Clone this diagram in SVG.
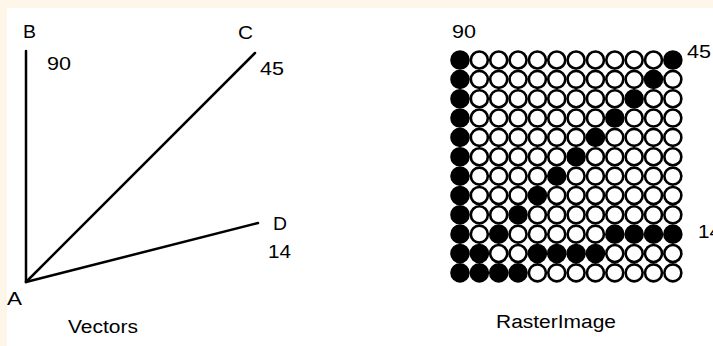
<svg xmlns="http://www.w3.org/2000/svg" width="713" height="346" viewBox="0 0 713 346">
<style>
text{font-family:"Liberation Sans",Arial,sans-serif;font-size:19.2px;fill:#000}
.v{stroke:#000;stroke-width:2.5;fill:none;stroke-linecap:round}
.o{fill:#fff;stroke:#000;stroke-width:2.6}
.f{fill:#000;stroke:#000;stroke-width:2.6}
</style>
<defs>
<circle id="o" r="8.5" class="o"/>
<circle id="f" r="8.5" class="f"/>
</defs>
<rect width="713" height="346" fill="#fef6e9"/>
<rect x="7" y="8" width="706" height="338" fill="#fff"/>
<g id="connectors">
<line class="v" x1="26" y1="51" x2="26" y2="282"/>
<line class="v" x1="26" y1="282" x2="255" y2="53"/>
<line class="v" x1="26" y1="282" x2="258" y2="223"/>
</g>
<g id="vectors-labels">
<text x="23" y="38" textLength="13" lengthAdjust="spacingAndGlyphs">B</text>
<text x="47" y="70" textLength="24" lengthAdjust="spacingAndGlyphs">90</text>
<text x="238" y="39" textLength="15" lengthAdjust="spacingAndGlyphs">C</text>
<text x="260" y="75" textLength="24" lengthAdjust="spacingAndGlyphs">45</text>
<text x="273" y="230" textLength="14" lengthAdjust="spacingAndGlyphs">D</text>
<text x="268" y="258" textLength="23" lengthAdjust="spacingAndGlyphs">14</text>
<text x="7" y="305" textLength="15" lengthAdjust="spacingAndGlyphs">A</text>
<text x="68" y="333" textLength="70" lengthAdjust="spacingAndGlyphs">Vectors</text>
</g>
<g id="raster-grid">
<g transform="translate(460,60)">
<use href="#f" x="0" y="0"/><use href="#o" x="19.35" y="0"/><use href="#o" x="38.7" y="0"/><use href="#o" x="58.05" y="0"/><use href="#o" x="77.4" y="0"/><use href="#o" x="96.75" y="0"/><use href="#o" x="116.1" y="0"/><use href="#o" x="135.45" y="0"/><use href="#o" x="154.8" y="0"/><use href="#o" x="174.15" y="0"/><use href="#o" x="193.5" y="0"/><use href="#f" x="212.85" y="0"/>
<use href="#f" x="0" y="19.35"/><use href="#o" x="19.35" y="19.35"/><use href="#o" x="38.7" y="19.35"/><use href="#o" x="58.05" y="19.35"/><use href="#o" x="77.4" y="19.35"/><use href="#o" x="96.75" y="19.35"/><use href="#o" x="116.1" y="19.35"/><use href="#o" x="135.45" y="19.35"/><use href="#o" x="154.8" y="19.35"/><use href="#o" x="174.15" y="19.35"/><use href="#f" x="193.5" y="19.35"/><use href="#o" x="212.85" y="19.35"/>
<use href="#f" x="0" y="38.7"/><use href="#o" x="19.35" y="38.7"/><use href="#o" x="38.7" y="38.7"/><use href="#o" x="58.05" y="38.7"/><use href="#o" x="77.4" y="38.7"/><use href="#o" x="96.75" y="38.7"/><use href="#o" x="116.1" y="38.7"/><use href="#o" x="135.45" y="38.7"/><use href="#o" x="154.8" y="38.7"/><use href="#f" x="174.15" y="38.7"/><use href="#o" x="193.5" y="38.7"/><use href="#o" x="212.85" y="38.7"/>
<use href="#f" x="0" y="58.05"/><use href="#o" x="19.35" y="58.05"/><use href="#o" x="38.7" y="58.05"/><use href="#o" x="58.05" y="58.05"/><use href="#o" x="77.4" y="58.05"/><use href="#o" x="96.75" y="58.05"/><use href="#o" x="116.1" y="58.05"/><use href="#o" x="135.45" y="58.05"/><use href="#f" x="154.8" y="58.05"/><use href="#o" x="174.15" y="58.05"/><use href="#o" x="193.5" y="58.05"/><use href="#o" x="212.85" y="58.05"/>
<use href="#f" x="0" y="77.4"/><use href="#o" x="19.35" y="77.4"/><use href="#o" x="38.7" y="77.4"/><use href="#o" x="58.05" y="77.4"/><use href="#o" x="77.4" y="77.4"/><use href="#o" x="96.75" y="77.4"/><use href="#o" x="116.1" y="77.4"/><use href="#f" x="135.45" y="77.4"/><use href="#o" x="154.8" y="77.4"/><use href="#o" x="174.15" y="77.4"/><use href="#o" x="193.5" y="77.4"/><use href="#o" x="212.85" y="77.4"/>
<use href="#f" x="0" y="96.75"/><use href="#o" x="19.35" y="96.75"/><use href="#o" x="38.7" y="96.75"/><use href="#o" x="58.05" y="96.75"/><use href="#o" x="77.4" y="96.75"/><use href="#o" x="96.75" y="96.75"/><use href="#f" x="116.1" y="96.75"/><use href="#o" x="135.45" y="96.75"/><use href="#o" x="154.8" y="96.75"/><use href="#o" x="174.15" y="96.75"/><use href="#o" x="193.5" y="96.75"/><use href="#o" x="212.85" y="96.75"/>
<use href="#f" x="0" y="116.1"/><use href="#o" x="19.35" y="116.1"/><use href="#o" x="38.7" y="116.1"/><use href="#o" x="58.05" y="116.1"/><use href="#o" x="77.4" y="116.1"/><use href="#f" x="96.75" y="116.1"/><use href="#o" x="116.1" y="116.1"/><use href="#o" x="135.45" y="116.1"/><use href="#o" x="154.8" y="116.1"/><use href="#o" x="174.15" y="116.1"/><use href="#o" x="193.5" y="116.1"/><use href="#o" x="212.85" y="116.1"/>
<use href="#f" x="0" y="135.45"/><use href="#o" x="19.35" y="135.45"/><use href="#o" x="38.7" y="135.45"/><use href="#o" x="58.05" y="135.45"/><use href="#f" x="77.4" y="135.45"/><use href="#o" x="96.75" y="135.45"/><use href="#o" x="116.1" y="135.45"/><use href="#o" x="135.45" y="135.45"/><use href="#o" x="154.8" y="135.45"/><use href="#o" x="174.15" y="135.45"/><use href="#o" x="193.5" y="135.45"/><use href="#o" x="212.85" y="135.45"/>
<use href="#f" x="0" y="154.8"/><use href="#o" x="19.35" y="154.8"/><use href="#o" x="38.7" y="154.8"/><use href="#f" x="58.05" y="154.8"/><use href="#o" x="77.4" y="154.8"/><use href="#o" x="96.75" y="154.8"/><use href="#o" x="116.1" y="154.8"/><use href="#o" x="135.45" y="154.8"/><use href="#o" x="154.8" y="154.8"/><use href="#o" x="174.15" y="154.8"/><use href="#o" x="193.5" y="154.8"/><use href="#o" x="212.85" y="154.8"/>
<use href="#f" x="0" y="174.15"/><use href="#o" x="19.35" y="174.15"/><use href="#f" x="38.7" y="174.15"/><use href="#o" x="58.05" y="174.15"/><use href="#o" x="77.4" y="174.15"/><use href="#o" x="96.75" y="174.15"/><use href="#o" x="116.1" y="174.15"/><use href="#o" x="135.45" y="174.15"/><use href="#f" x="154.8" y="174.15"/><use href="#f" x="174.15" y="174.15"/><use href="#f" x="193.5" y="174.15"/><use href="#f" x="212.85" y="174.15"/>
<use href="#f" x="0" y="193.5"/><use href="#f" x="19.35" y="193.5"/><use href="#o" x="38.7" y="193.5"/><use href="#o" x="58.05" y="193.5"/><use href="#f" x="77.4" y="193.5"/><use href="#f" x="96.75" y="193.5"/><use href="#f" x="116.1" y="193.5"/><use href="#f" x="135.45" y="193.5"/><use href="#o" x="154.8" y="193.5"/><use href="#o" x="174.15" y="193.5"/><use href="#o" x="193.5" y="193.5"/><use href="#o" x="212.85" y="193.5"/>
<use href="#f" x="0" y="212.85"/><use href="#f" x="19.35" y="212.85"/><use href="#f" x="38.7" y="212.85"/><use href="#f" x="58.05" y="212.85"/><use href="#o" x="77.4" y="212.85"/><use href="#o" x="96.75" y="212.85"/><use href="#o" x="116.1" y="212.85"/><use href="#o" x="135.45" y="212.85"/><use href="#o" x="154.8" y="212.85"/><use href="#o" x="174.15" y="212.85"/><use href="#o" x="193.5" y="212.85"/><use href="#o" x="212.85" y="212.85"/>
</g>
</g>
<g id="raster-labels">
<text x="452" y="38" textLength="24" lengthAdjust="spacingAndGlyphs">90</text>
<text x="687" y="58" textLength="24" lengthAdjust="spacingAndGlyphs">45</text>
<text x="698" y="238" textLength="23" lengthAdjust="spacingAndGlyphs">14</text>
<text x="496" y="328" textLength="120" lengthAdjust="spacingAndGlyphs">RasterImage</text>
</g>
</svg>
